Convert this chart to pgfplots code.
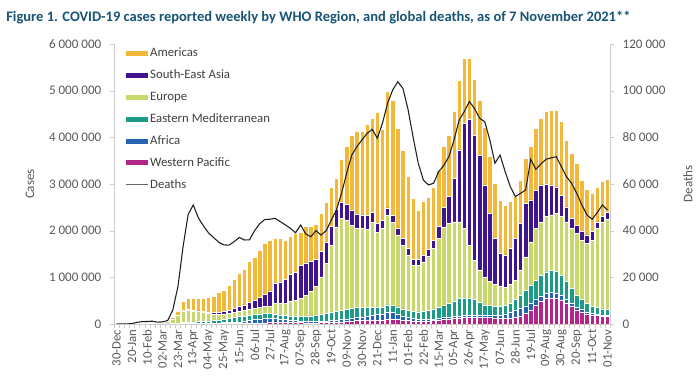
\documentclass[border=0pt]{standalone}
\usepackage{pgfplots}
\pgfplotsset{compat=1.18}
\usepackage{pgfplotstable}
\usepackage{fontspec}
\setmainfont{Carlito}

\definecolor{cAMR}{RGB}{242,184,58}
\definecolor{cSEA}{RGB}{64,20,140}
\definecolor{cEUR}{RGB}{201,216,108}
\definecolor{cEMR}{RGB}{28,155,135}
\definecolor{cAFR}{RGB}{38,100,178}
\definecolor{cWPR}{RGB}{178,38,140}
\definecolor{titleblue}{RGB}{24,84,116}
\definecolor{labelgray}{RGB}{89,89,89}
\definecolor{axisgray}{RGB}{205,205,205}
\definecolor{deathcol}{RGB}{30,30,30}

% weekly cases in thousands by WHO region; d = global deaths
\pgfplotstableread{
i w a e u s m d
0 0 0 0 0 0 0 0
1 0 0 0 0 0 0 0
2 0.1 0 0 0 0 0 10
3 2 0 0 0 0 0 200
4 9 0 0 0 0 0 700
5 19 0 0 0 0 0 1000
6 22 0 0 0 0 0 1100
7 11 0 0 1 0 0 1200
8 5 0 1 1 0 0 800
9 4 0 5 8 0 1 900
10 4 0 8 40 1 4 1500
11 5 0 10 95 1 25 6000
12 5 1 16 165 2 80 16000
13 7 3 22 250 5 190 33000
14 8 5 25 260 10 240 47000
15 8 6 30 235 12 260 51000
16 9 7 35 215 15 270 45500
17 8 8 40 190 20 290 42000
18 7 10 48 165 25 315 39000
19 7 12 55 135 33 358 37000
20 7 15 65 125 40 418 35000
21 8 18 75 115 52 462 33900
22 8 25 88 110 65 534 33800
23 8 30 100 115 80 627 35300
24 9 37 110 120 100 714 37100
25 10 45 115 125 115 760 36000
26 12 60 118 130 140 880 36100
27 15 75 115 135 170 930 40000
28 18 90 108 140 210 1004 43000
29 25 100 100 150 260 1095 44800
30 30 95 95 160 330 1090 44900
31 35 80 92 233 430 970 45300
32 40 65 88 247 450 950 43900
33 42 55 85 258 520 840 42500
34 40 45 85 310 580 810 41000
35 32 40 90 348 600 830 39100
36 28 35 100 387 700 710 42400
37 25 35 110 450 690 790 38600
38 25 32 118 515 650 760 37400
39 25 30 128 617 580 760 40000
40 30 35 145 800 540 820 38100
41 30 35 160 1075 460 850 40000
42 30 40 175 1445 400 830 44600
43 35 45 190 1810 380 670 48900
44 40 50 205 1965 350 920 56000
45 50 55 215 1910 330 1250 64600
46 60 60 220 1780 320 1610 72400
47 70 65 215 1700 310 1780 76000
48 75 75 200 1700 290 1780 78900
49 80 90 185 1675 300 1950 81700
50 85 110 165 1810 220 2020 83400
51 85 125 150 1600 190 2380 79600
52 80 130 140 1700 170 1950 86000
53 90 170 150 1920 160 2490 94600
54 95 150 155 1770 150 2480 100300
55 90 120 155 1545 150 2130 103800
56 80 95 150 1365 140 1900 101000
57 70 75 145 1190 140 1550 92000
58 60 60 145 995 130 1300 80000
59 50 50 160 1000 120 1060 68900
60 55 45 175 1055 140 1170 61700
61 60 40 195 1155 150 1110 59600
62 70 40 215 1295 170 1150 60300
63 80 40 240 1480 250 1210 65300
64 95 40 265 1680 420 1300 68000
65 105 40 290 1725 570 1310 71700
66 120 40 330 1700 930 1430 78900
67 130 40 370 1650 1540 1500 87400
68 140 40 380 1490 2250 1390 91000
69 145 40 370 1135 2700 1300 95300
70 145 40 340 845 2680 1190 92400
71 140 40 280 700 2460 1180 88200
72 140 40 230 600 1970 1230 86700
73 135 45 210 520 1460 1220 78900
74 130 55 200 455 1000 1170 68900
75 115 70 195 420 710 1150 72400
76 115 95 190 390 690 1070 65300
77 120 120 200 400 780 1000 58900
78 140 150 230 420 900 890 54600
79 170 160 280 550 1000 930 56000
80 220 165 330 725 1150 960 57400
81 290 150 380 940 900 1150 70600
82 390 130 420 1110 820 1320 66300
83 480 120 440 1150 790 1430 68600
84 540 115 460 1185 700 1550 70600
85 560 110 470 1200 640 1590 71200
86 555 105 460 1250 570 1650 71700
87 510 95 430 1265 460 1580 67400
88 440 85 380 1285 320 1430 63100
89 370 70 320 1290 210 1400 60300
90 300 55 270 1315 180 1320 56000
91 260 45 220 1275 180 1110 51000
92 215 35 190 1290 180 980 46700
93 195 30 160 1415 180 820 44900
94 185 25 140 1700 140 750 47700
95 175 22 125 1848 140 740 51000
96 170 20 115 1935 150 710 48900
}\data

\begin{document}
\begin{tikzpicture}[x=0.75pt,y=-0.75pt]
\path[use as bounding box] (0,0) rectangle (700,384);
\node[anchor=base west, inner sep=0pt, font=\bfseries\fontsize{10.9}{12}\selectfont, text=titleblue] at (6,22)
  {Figure 1. COVID-19 cases reported weekly by WHO Region, and global deaths, as of 7 November 2021**};
\node[rotate=90, font=\fontsize{9.8}{11}\selectfont, text=labelgray] at (30,184) {Cases};
\node[rotate=90, font=\fontsize{9.8}{11}\selectfont, text=labelgray] at (688,184) {Deaths};

\begin{axis}[
  at={(85.5pt,-243pt)}, anchor=south west,
  width=372pt, height=210pt, scale only axis,
  xmin=-0.5, xmax=96.5, ymin=0, ymax=6000,
  axis y line*=left, axis x line*=bottom,
  axis line style={draw=axisgray},
  ybar stacked, bar width=0.86,
  xtick={0,3,...,96},
  xticklabels={30-Dec,20-Jan,10-Feb,02-Mar,23-Mar,13-Apr,04-May,25-May,15-Jun,06-Jul,27-Jul,17-Aug,07-Sep,28-Sep,19-Oct,09-Nov,30-Nov,21-Dec,11-Jan,01-Feb,22-Feb,15-Mar,05-Apr,26-Apr,17-May,07-Jun,28-Jun,19-Jul,09-Aug,30-Aug,20-Sep,11-Oct,01-Nov},
  minor xtick={-0.5,0.5,...,96.5},
  major x tick style={draw=none},
  ytick={0,1000,...,6000},
  yticklabels={0,1 000 000,2 000 000,3 000 000,4 000 000,5 000 000,6 000 000},
  scaled y ticks=false,
  tick align=outside, major tick length=3pt, minor tick length=3pt,
  tick style={axisgray},
  xticklabel style={rotate=90, anchor=east, inner sep=1pt, font=\fontsize{9.6}{11}\selectfont, text=labelgray},
  yticklabel style={font=\fontsize{9.8}{11}\selectfont, text=labelgray, xshift=-3pt},
  reverse legend,
  legend cell align=left,
  legend style={at={(0,1)}, anchor=north west, xshift=8pt, yshift=-1.5pt,
    draw=none, fill=none, inner sep=0pt,
    font=\fontsize{9.6}{11}\selectfont, text=black!75,
    nodes={inner sep=1pt, text height=7pt, text depth=2pt},
    row sep=5.4pt},
  legend image code/.code={\fill[#1,draw=none] (0pt,-1.9pt) rectangle (17pt,1.9pt);},
]
\addlegendimage{legend image code/.code={\draw[black!60, line width=0.9pt] (0pt,0pt) -- (17pt,0pt);}}
\addlegendentry{Deaths}
\addplot[fill=cWPR, draw=white, line width=0.45pt] table[x=i,y=w]{\data};
\addlegendentry{Western Pacific}
\addplot[fill=cAFR, draw=white, line width=0.45pt] table[x=i,y=a]{\data};
\addlegendentry{Africa}
\addplot[fill=cEMR, draw=white, line width=0.45pt] table[x=i,y=e]{\data};
\addlegendentry{Eastern Mediterranean}
\addplot[fill=cEUR, draw=white, line width=0.45pt] table[x=i,y=u]{\data};
\addlegendentry{Europe}
\addplot[fill=cSEA, draw=white, line width=0.45pt] table[x=i,y=s]{\data};
\addlegendentry{South-East Asia}
\addplot[fill=cAMR, draw=white, line width=0.45pt] table[x=i,y=m]{\data};
\addlegendentry{Americas}
\end{axis}

\begin{axis}[
  at={(85.5pt,-243pt)}, anchor=south west,
  width=372pt, height=210pt, scale only axis,
  xmin=-0.5, xmax=96.5, ymin=0, ymax=120000,
  axis y line*=right, axis x line=none,
  axis line style={draw=axisgray},
  ytick={0,20000,...,120000},
  yticklabels={0,20 000,40 000,60 000,80 000,100 000,120 000},
  scaled y ticks=false,
  tick align=outside, major tick length=3pt,
  tick style={axisgray},
  yticklabel style={font=\fontsize{9.8}{11}\selectfont, text=labelgray, xshift=3pt},
]
\addplot[draw=deathcol, line width=0.8pt, mark=none] table[x=i,y=d]{\data};
\end{axis}
\end{tikzpicture}
\end{document}
